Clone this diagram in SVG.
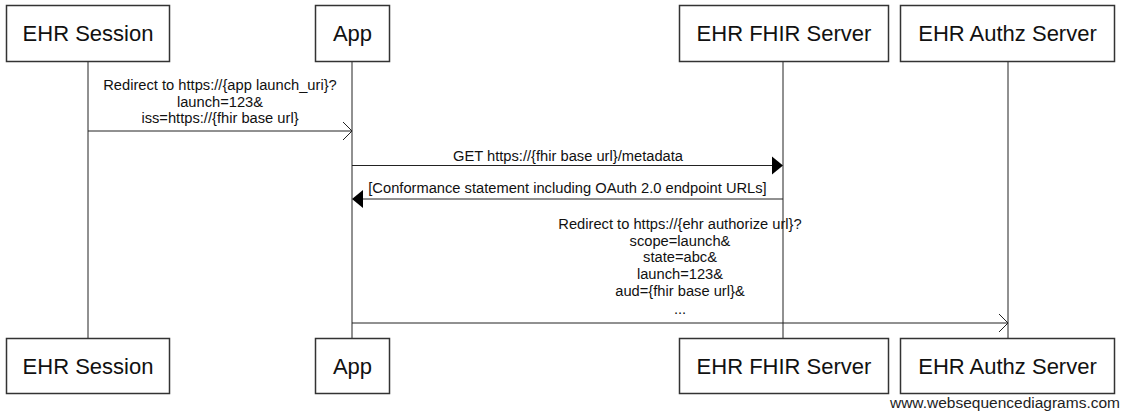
<svg xmlns="http://www.w3.org/2000/svg" width="1125" height="415" viewBox="0 0 1125 415">
  <style>
    .box { fill: #fff; stroke: #333; stroke-width: 1.5; }
    .name { font-family: "Liberation Sans", Arial, sans-serif; font-size: 22px; fill: #111; text-anchor: middle; }
    .life { stroke: #222; stroke-width: 1; }
    .msg { stroke: #222; stroke-width: 1; fill: none; }
    .lbl { font-family: "Liberation Sans", Arial, sans-serif; font-size: 14.7px; fill: #111; text-anchor: middle; }
    .open { stroke: #222; stroke-width: 1; fill: none; }
    .solid { fill: #000; stroke: none; }
    .mark { font-family: "Liberation Sans", Arial, sans-serif; font-size: 15.5px; fill: #222; text-anchor: end; }
  </style>
  <rect width="1125" height="415" fill="#fff"/>

  <!-- lifelines -->
  <g id="lifelines">
    <line class="life" x1="88" y1="62" x2="88" y2="338"/>
    <line class="life" x1="352" y1="62" x2="352" y2="338"/>
    <line class="life" x1="783" y1="62" x2="783" y2="338"/>
    <line class="life" x1="1008" y1="62" x2="1008" y2="338"/>
  </g>

  <!-- participants -->
  <g id="ehr-session">
    <rect class="box" x="6.5" y="5.5" width="163" height="56"/>
    <text class="name" x="88" y="41">EHR Session</text>
    <rect class="box" x="6.5" y="338.5" width="163" height="55"/>
    <text class="name" x="88" y="374">EHR Session</text>
  </g>
  <g id="app">
    <rect class="box" x="315.5" y="5.5" width="74" height="56"/>
    <text class="name" x="352.5" y="41">App</text>
    <rect class="box" x="315.5" y="338.5" width="74" height="55"/>
    <text class="name" x="352.5" y="374">App</text>
  </g>
  <g id="ehr-fhir-server">
    <rect class="box" x="679.5" y="5.5" width="209" height="56"/>
    <text class="name" x="784" y="41">EHR FHIR Server</text>
    <rect class="box" x="679.5" y="338.5" width="209" height="55"/>
    <text class="name" x="784" y="374">EHR FHIR Server</text>
  </g>
  <g id="ehr-authz-server">
    <rect class="box" x="900.5" y="5.5" width="214" height="56"/>
    <text class="name" x="1007.5" y="41">EHR Authz Server</text>
    <rect class="box" x="900.5" y="338.5" width="214" height="55"/>
    <text class="name" x="1007.5" y="374">EHR Authz Server</text>
  </g>

  <!-- messages -->
  <g id="connectors">
    <!-- EHR Session -> App -->
    <line class="msg" x1="88" y1="131" x2="352" y2="131"/>
    <polyline class="open" points="343,122 352,131 343,140"/>
    <text class="lbl" x="220" y="90">Redirect to https://{app launch_uri}?</text>
    <text class="lbl" x="220" y="106.5">launch=123&amp;</text>
    <text class="lbl" x="220" y="123">iss=https://{fhir base url}</text>

    <!-- App -> EHR FHIR Server -->
    <line class="msg" x1="352" y1="165.5" x2="773" y2="165.5"/>
    <polygon class="solid" points="772,156.5 783,165.5 772,174.5"/>
    <text class="lbl" x="568" y="161">GET https://{fhir base url}/metadata</text>

    <!-- EHR FHIR Server -> App -->
    <line class="msg" x1="783" y1="199" x2="362" y2="199"/>
    <polygon class="solid" points="363,190 352,199 363,208"/>
    <text class="lbl" x="567.5" y="193">[Conformance statement including OAuth 2.0 endpoint URLs]</text>

    <!-- App -> EHR Authz Server -->
    <line class="msg" x1="352" y1="323" x2="1008" y2="323"/>
    <polyline class="open" points="999,314 1008,323 999,332"/>
    <text class="lbl" x="680" y="228.5">Redirect to https://{ehr authorize url}?</text>
    <text class="lbl" x="680" y="245.5">scope=launch&amp;</text>
    <text class="lbl" x="680" y="262">state=abc&amp;</text>
    <text class="lbl" x="680" y="279">launch=123&amp;</text>
    <text class="lbl" x="680" y="296">aud={fhir base url}&amp;</text>
    <text class="lbl" x="680" y="314">...</text>
  </g>

  <text class="mark" x="1120" y="408">www.websequencediagrams.com</text>
</svg>
